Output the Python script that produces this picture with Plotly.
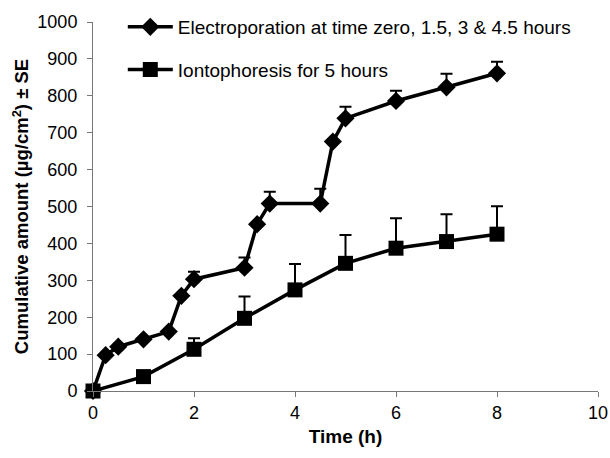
import plotly.graph_objects as go

# Electroporation at time zero, 1.5, 3 & 4.5 hours
ep_time = [0, 0.25, 0.5, 1, 1.5, 1.75, 2, 3, 3.25, 3.5, 4.5, 4.75, 5, 6, 7, 8]
ep_mean = [0, 97, 120, 140, 161, 258, 303, 334, 452, 508, 508, 676, 739, 786, 823, 861]
ep_se = [0, 0, 0, 0, 0, 0, 20, 28, 0, 32, 40, 0, 31, 28, 37, 31]

# Iontophoresis for 5 hours
io_time = [0, 1, 2, 3, 4, 5, 6, 7, 8]
io_mean = [0, 39, 113, 197, 274, 346, 387, 405, 425]
io_se = [0, 0, 30, 59, 70, 77, 81, 74, 76]

x_ticks = [0, 2, 4, 6, 8, 10]
y_ticks = [0, 100, 200, 300, 400, 500, 600, 700, 800, 900, 1000]

FONT = "Liberation Sans, Arial, Helvetica, sans-serif"

fig = go.Figure()
fig.add_trace(go.Scatter(
    x=ep_time, y=ep_mean, mode="lines+markers",
    name="Electroporation at time zero, 1.5, 3 & 4.5 hours",
    legendgroup="a",
    line=dict(color="black", width=3.5),
    marker=dict(symbol="diamond", size=14, color="black"),
    error_y=dict(type="data", symmetric=False, array=ep_se,
                 arrayminus=[0] * len(ep_se), color="black", thickness=2, width=6),
    cliponaxis=False,
))
fig.add_trace(go.Scatter(
    x=io_time, y=io_mean, mode="lines+markers",
    name="Iontophoresis for 5 hours",
    legendgroup="b",
    line=dict(color="black", width=3.5),
    marker=dict(symbol="square", size=15, color="black"),
    error_y=dict(type="data", symmetric=False, array=io_se,
                 arrayminus=[0] * len(io_se), color="black", thickness=2, width=6),
    cliponaxis=False,
))

fig.update_layout(
    width=610, height=458,
    margin=dict(l=93, r=12, t=22, b=67, autoexpand=False),
    paper_bgcolor="white", plot_bgcolor="white",
    font=dict(family=FONT, color="black", size=18),
    showlegend=True,
    legend=dict(x=0.059, y=1.038, xanchor="left", yanchor="top",
                bgcolor="rgba(0,0,0,0)", font=dict(size=19, family=FONT),
                itemwidth=45, tracegroupgap=15, traceorder="grouped"),
    xaxis=dict(range=[0, 10], tickvals=x_ticks, showgrid=False, zeroline=False,
               showline=True, linecolor="#777", linewidth=1, automargin=False,
               ticks="outside", ticklen=5, tickcolor="#777",
               title=dict(text="<b>Time (h)</b>", standoff=8, font=dict(size=19))),
    yaxis=dict(range=[0, 1000], tickvals=y_ticks, showgrid=False, zeroline=False,
               showline=True, linecolor="#777", linewidth=1, automargin=False,
               ticks="outside", ticklen=5, tickcolor="#777", ticklabelstandoff=6,
               title=dict(text="<b>Cumulative amount (µg/cm<sup>2</sup>) ± SE</b>",
                          standoff=3, font=dict(size=18.5))),
)

fig.write_html(
    "out.html",
    config={"displayModeBar": False},
    post_script="document.body.style.margin='0';document.body.style.overflow='hidden';",
)
